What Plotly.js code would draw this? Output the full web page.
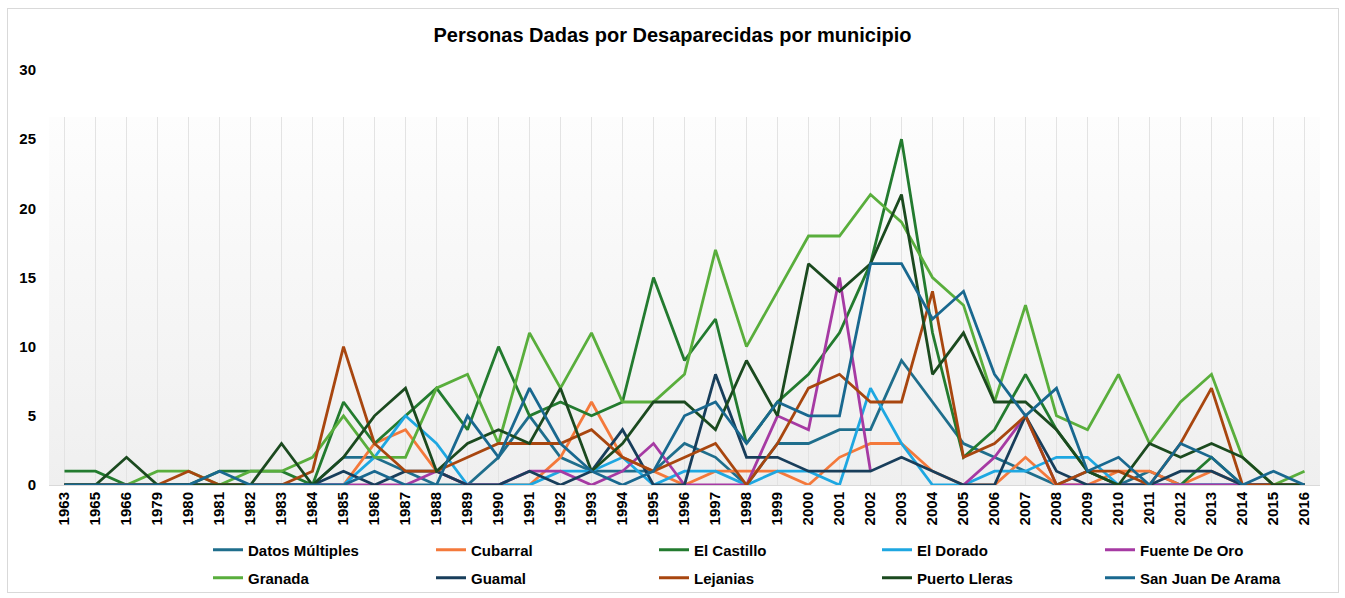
<!DOCTYPE html>
<html>
<head>
<meta charset="utf-8">
<script src="https://cdn.plot.ly/plotly-3.0.1.min.js"></script>
<style>
  html, body { margin: 0; padding: 0; background: #ffffff; }
  #wrap { position: relative; width: 1345px; height: 598px; }
  #chart { position: absolute; left: 0; top: 0; width: 1345px; height: 598px; }
  #frame { position: absolute; left: 7px; top: 8px; width: 1330px; height: 583px; border: 1px solid #d9d9d9; pointer-events: none; }
</style>
</head>
<body>
<div id="wrap"><div id="chart"></div><div id="frame"></div></div>
<script>
const years = ['1963','1965','1966','1979','1980','1981','1982','1983','1984','1985','1986','1987','1988','1989','1990','1991','1992','1993','1994','1995','1996','1997','1998','1999','2000','2001','2002','2003','2004','2005','2006','2007','2008','2009','2010','2011','2012','2013','2014','2015','2016'];

const datosMultiples = [0,0,0,0,0,0,0,0,0, 2,2,1,0,0,2,5,2,1,1, 1,3,2,0,3,3,4,4,9,6, 3,2,1,0,1,0,1,0,0,0, 0,0];
const cubarral       = [0,0,0,0,0,0,0,0,0, 0,3,4,1,0,0,0,2,6,2, 1,0,1,1,1,0,2,3,3,1, 0,0,2,0,0,1,1,0,1,0, 0,0];
const elCastillo     = [1,1,0,0,0,1,1,1,0, 6,3,5,7,4,10,5,6,5,6, 15,9,12,3,6,8,11,16,25,11, 2,4,8,4,1,0,0,0,2,0, 0,0];
const elDorado       = [0,0,0,0,0,0,0,0,0, 0,2,5,3,0,0,0,1,1,2, 0,1,1,0,1,1,0,7,3,0, 0,1,1,2,2,0,0,0,0,0, 0,0];
const fuenteDeOro    = [0,0,0,0,0,0,0,0,0, 0,0,0,1,0,0,1,1,0,1, 3,0,0,0,5,4,15,1,null,null, 0,2,5,0,0,0,0,0,0,0, 0,0];
const granada        = [0,0,0,1,1,0,1,1,2, 5,2,2,7,8,3,11,7,11,6, 6,8,17,10,14,18,18,21,19,15, 13,6,13,5,4,8,3,6,8,2, 0,1];
const guamal         = [0,0,0,0,0,0,0,0,0, 1,0,1,1,0,0,1,0,1,4, 0,0,8,2,2,1,1,1,2,1, 0,0,5,1,0,0,0,1,1,0, 0,0];
const lejanias       = [0,0,0,0,1,0,0,0,1, 10,3,1,1,2,3,3,3,4,2, 1,2,3,0,3,7,8,6,6,14, 2,3,5,0,1,1,0,3,7,0, 0,0];
const puertoLleras   = [0,0,2,0,0,0,0,3,0, 2,5,7,1,3,4,3,7,1,3, 6,6,4,9,5,16,14,16,21,8, 11,6,6,4,1,0,3,2,3,2, 0,0];
const sanJuanDeArama = [0,0,0,0,0,1,0,0,0, 0,1,0,0,5,2,7,3,1,0, 1,5,6,3,6,5,5,16,16,12, 14,8,5,7,1,2,0,3,2,0, 1,0];

const seriesNames = ['Datos Múltiples','Cubarral','El Castillo','El Dorado','Fuente De Oro','Granada','Guamal','Lejanias','Puerto Lleras','San Juan De Arama'];
const seriesValues = [datosMultiples, cubarral, elCastillo, elDorado, fuenteDeOro, granada, guamal, lejanias, puertoLleras, sanJuanDeArama];
const seriesColors = ['#1F6E8C','#F4793B','#237B2F','#1EA7E1','#A63AA3','#59AE3C','#183E5B','#A8460F','#1B4A1F','#19688F'];

const FONT = '"Liberation Sans", Arial, sans-serif';
const gradTop = 26.6;

// faint vertical gridlines (only inside the shaded area), drawn as hairline bars
const gridTrace = {
  type: 'bar',
  x: years,
  y: years.map(() => gradTop),
  width: 0.033,
  marker: { color: '#e3e3e3', line: { width: 0 } },
  showlegend: false,
  hoverinfo: 'skip'
};

const traces = [gridTrace].concat(seriesNames.map((name, i) => ({
  type: 'scatter',
  mode: 'lines',
  name: name,
  x: years,
  y: seriesValues[i],
  line: { color: seriesColors[i], width: 2.8 },
  connectgaps: false,
  cliponaxis: false,
  legend: i < 5 ? 'legend' : 'legend2',
  hoverinfo: 'skip'
})));

const gradSvg = "<svg xmlns='http://www.w3.org/2000/svg' width='100' height='100' preserveAspectRatio='none'>" +
  "<defs><linearGradient id='g' x1='0' y1='0' x2='0' y2='1'>" +
  "<stop offset='0' stop-color='#fdfdfd'/><stop offset='1' stop-color='#efefef'/>" +
  "</linearGradient></defs><rect width='100' height='100' fill='url(#g)'/></svg>";
const gradUri = 'data:image/svg+xml;charset=utf-8,' + encodeURIComponent(gradSvg);

const legendBase = {
  orientation: 'h',
  xref: 'container', yref: 'container',
  x: 208 / 1345, xanchor: 'left',
  yanchor: 'middle',
  entrywidth: 178, entrywidthmode: 'pixels',
  font: { family: FONT, size: 15, color: '#000000', weight: 'bold' },
  bgcolor: 'rgba(0,0,0,0)',
  itemclick: false, itemdoubleclick: false
};

const layout = {
  width: 1345,
  height: 598,
  margin: { l: 49, r: 25, t: 70, b: 113 },
  paper_bgcolor: 'rgba(0,0,0,0)',
  plot_bgcolor: 'rgba(0,0,0,0)',
  showlegend: true,
  bargap: 0,
  title: {
    text: 'Personas Dadas por Desaparecidas por municipio',
    font: { family: FONT, size: 20, color: '#000000', weight: 'bold' },
    x: 0.5, xref: 'container', xanchor: 'center',
    y: 1 - 35 / 598, yref: 'container', yanchor: 'middle'
  },
  xaxis: {
    type: 'category',
    range: [-0.5, 40.5],
    showgrid: false,
    showline: true,
    linecolor: '#d9d9d9',
    linewidth: 1,
    zeroline: false,
    ticks: '',
    tickangle: -90,
    tickfont: { family: FONT, size: 15, color: '#000000', weight: 'bold' },
    fixedrange: true
  },
  yaxis: {
    range: [0, 30],
    tick0: 0,
    dtick: 5,
    showgrid: false,
    zeroline: false,
    showline: false,
    ticks: '',
    ticklabelstandoff: 12,
    tickfont: { family: FONT, size: 15, color: '#000000', weight: 'bold' },
    fixedrange: true
  },
  legend: Object.assign({}, legendBase, { y: 1 - 550 / 598 }),
  legend2: Object.assign({}, legendBase, { y: 1 - 578 / 598 }),
  images: [{
    source: gradUri,
    xref: 'paper', yref: 'paper',
    x: 0, y: gradTop / 30,
    sizex: 1, sizey: gradTop / 30,
    xanchor: 'left', yanchor: 'top',
    sizing: 'stretch',
    layer: 'below'
  }],
  hovermode: false
};

Plotly.newPlot('chart', traces, layout, { staticPlot: true, displayModeBar: false });
</script>
</body>
</html>
